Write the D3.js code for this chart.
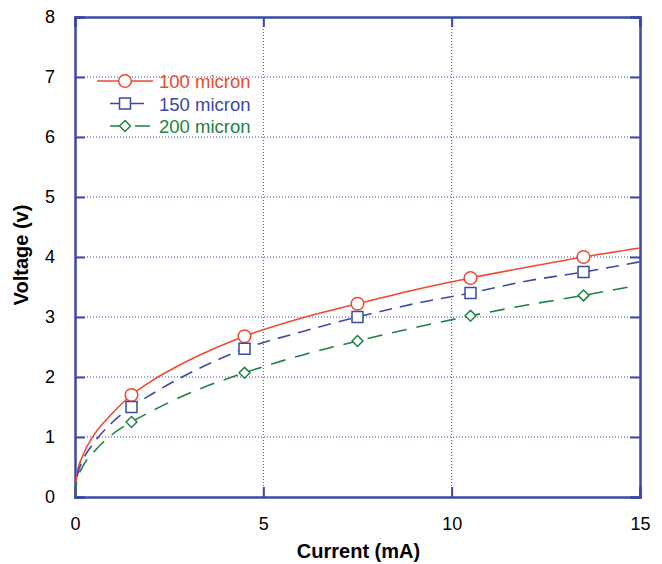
<!DOCTYPE html>
<html>
<head>
<meta charset="utf-8">
<script src="https://cdn.jsdelivr.net/npm/d3@7"></script>
<style>
  body { margin: 0; background: #fff; }
  text { font-family: "Liberation Sans", Arial, sans-serif; }
</style>
</head>
<body>
<div id="chart"></div>
<script>
var svgWidth = 662;
var svgHeight = 564;
var margin = { top: 17, right: 22, bottom: 67, left: 75 };
var width = svgWidth - margin.left - margin.right;
var height = svgHeight - margin.top - margin.bottom;

// Curves (current in mA, voltage in V)
var current100 = [0, 0.05, 0.2, 0.5, 1, 1.5, 2, 3, 4.5, 6, 7.5, 9, 10.5, 12, 13.5, 15];
var voltage100 = [0, 0.37, 0.68, 1.03, 1.4, 1.7, 1.92, 2.27, 2.68, 2.98, 3.22, 3.45, 3.65, 3.83, 4.0, 4.15];
var current150 = [0, 0.05, 0.2, 0.5, 1, 1.5, 2, 3, 4.5, 6, 7.5, 9, 10.5, 12, 13.5, 15];
var voltage150 = [0, 0.32, 0.6, 0.9, 1.25, 1.5, 1.7, 2.05, 2.47, 2.75, 3.0, 3.22, 3.4, 3.6, 3.75, 3.92];
var current200 = [0, 0.05, 0.2, 0.5, 1, 1.5, 2, 3, 4.5, 6, 7.5, 9, 10.5, 12, 13.5, 14.7];
var voltage200 = [0, 0.27, 0.5, 0.75, 1.05, 1.25, 1.42, 1.72, 2.07, 2.36, 2.6, 2.82, 3.02, 3.2, 3.36, 3.5];

// Marker positions
var markerCurrent = [1.5, 4.5, 7.5, 10.5, 13.5];
var marker100 = [1.7, 2.68, 3.22, 3.65, 4.0];
var marker150 = [1.5, 2.47, 3.0, 3.4, 3.75];
var marker200 = [1.25, 2.07, 2.6, 3.02, 3.36];

var seriesNames = ["100 micron", "150 micron", "200 micron"];
var xTicks = [0, 5, 10, 15];
var yTicks = [0, 1, 2, 3, 4, 5, 6, 7, 8];

var frameColor = "#3b49a8";

var series = [
  { name: seriesNames[0], xs: current100, ys: voltage100, my: marker100, color: "#ee4a2e", dash: null, shape: "circle", lx: [0, 56] },
  { name: seriesNames[1], xs: current150, ys: voltage150, my: marker150, color: "#3b49a8", dash: "13,8", shape: "square", lx: [13, 53] },
  { name: seriesNames[2], xs: current200, ys: voltage200, my: marker200, color: "#1f8242", dash: "15,10", shape: "diamond", lx: [13, 53] }
];

var svg = d3.select("#chart").append("svg").attr("width", svgWidth).attr("height", svgHeight);
var chartGroup = svg.append("g").attr("transform", `translate(${margin.left}, ${margin.top})`);

var x = d3.scaleLinear().domain([0, 15]).range([0, width]);
var y = d3.scaleLinear().domain([0, 8]).range([height, 0]);

// Grid lines (dotted)
chartGroup.append("g").selectAll("line").data(xTicks.slice(1, -1)).enter().append("line")
  .attr("x1", d => x(d)).attr("x2", d => x(d)).attr("y1", 0).attr("y2", height)
  .attr("stroke", frameColor).attr("stroke-width", 1).attr("stroke-dasharray", "1,2");
chartGroup.append("g").selectAll("line").data(yTicks.slice(1, -1)).enter().append("line")
  .attr("y1", d => y(d)).attr("y2", d => y(d)).attr("x1", 0).attr("x2", width)
  .attr("stroke", frameColor).attr("stroke-width", 1).attr("stroke-dasharray", "1,2");

// Axes with inward ticks on all four sides
var xAxis = d3.axisBottom(x).tickValues(xTicks).tickSize(-10).tickPadding(20).tickFormat(d3.format("d"));
var yAxis = d3.axisLeft(y).tickValues(yTicks).tickSize(-10).tickPadding(20).tickFormat(d3.format("d"));
var xTop = d3.axisTop(x).tickValues(xTicks).tickSize(-10).tickFormat("");
var yRight = d3.axisRight(y).tickValues(yTicks).tickSize(-10).tickFormat("");

function styleAxis(g) {
  g.selectAll("path, line").attr("stroke", frameColor).attr("stroke-width", 2);
  g.select(".domain").attr("stroke-width", 2.5);
  g.selectAll("text").attr("fill", "#000").style("font-size", "18px");
}
chartGroup.append("g").attr("transform", `translate(0, ${height})`).call(xAxis).call(styleAxis);
chartGroup.append("g").call(yAxis).call(styleAxis);
chartGroup.append("g").call(xTop).call(styleAxis);
chartGroup.append("g").attr("transform", `translate(${width}, 0)`).call(yRight).call(styleAxis);

// Curves
var line = d3.line().x(d => x(d[0])).y(d => y(d[1])).curve(d3.curveMonotoneX);
function markerPath(shape) {
  if (shape === "circle") return d3.symbol().type(d3.symbolCircle).size(125)();
  if (shape === "square") return d3.symbol().type(d3.symbolSquare).size(120)();
  return d3.symbol().type(d3.symbolDiamond2).size(75)();
}

series.forEach(function(s) {
  chartGroup.append("path")
    .datum(d3.zip(s.xs, s.ys))
    .attr("d", line)
    .attr("fill", "none")
    .attr("stroke", s.color)
    .attr("stroke-width", 1.6)
    .attr("stroke-dasharray", s.dash);
  chartGroup.append("g").selectAll("path").data(d3.zip(markerCurrent, s.my)).enter().append("path")
    .attr("d", markerPath(s.shape))
    .attr("transform", d => `translate(${x(d[0])}, ${y(d[1])})`)
    .attr("fill", "#fff")
    .attr("stroke", s.color)
    .attr("stroke-width", 1.5);
});

// Legend
var legend = chartGroup.append("g").attr("transform", "translate(22, 64)");
series.forEach(function(s, i) {
  var g = legend.append("g").attr("transform", `translate(0, ${i * 22.5})`);
  g.append("line").attr("x1", s.lx[0]).attr("x2", s.lx[1]).attr("y1", 0).attr("y2", 0)
    .attr("stroke", s.color).attr("stroke-width", 1.6).attr("stroke-dasharray", s.dash);
  g.append("path").attr("d", markerPath(s.shape)).attr("transform", "translate(28, 0)")
    .attr("fill", "#fff").attr("stroke", s.color).attr("stroke-width", 1.5);
  g.append("text").attr("x", 62).attr("y", 7).attr("fill", s.color)
    .style("font-size", "18.5px").text(s.name);
});

// Axis titles
svg.append("text").attr("x", margin.left + width / 2 + 1).attr("y", 558)
  .attr("text-anchor", "middle").style("font-size", "20px").style("font-weight", "bold")
  .text("Current (mA)");
svg.append("text").attr("transform", `translate(28, ${margin.top + height / 2 - 2}) rotate(-90)`)
  .attr("text-anchor", "middle").style("font-size", "20px").style("font-weight", "bold")
  .text("Voltage (v)");
</script>
</body>
</html>
